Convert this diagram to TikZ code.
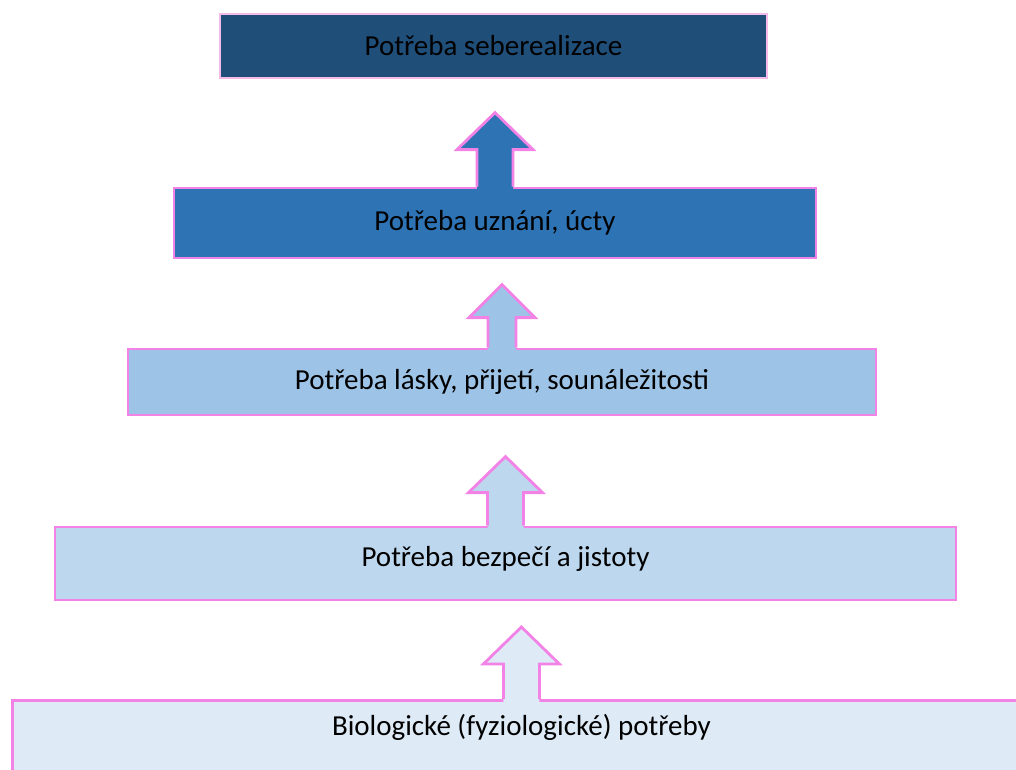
\documentclass[tikz,border=0pt]{standalone}
\usepackage{fontspec}
\setmainfont{Carlito}
\usepackage{tikz}
\usetikzlibrary{positioning}

\definecolor{rim}{RGB}{243,130,230}
\definecolor{rimlight}{RGB}{245,186,232}
\definecolor{lvlfive}{RGB}{31,78,121}
\definecolor{lvlfour}{RGB}{46,116,181}
\definecolor{lvlthree}{RGB}{157,195,230}
\definecolor{lvltwo}{RGB}{189,215,238}
\definecolor{lvlone}{RGB}{222,235,247}

\begin{document}
\begin{tikzpicture}[x=1pt, y=-1pt,
		level/.style = {draw=rim, line width=2.8pt, inner sep=0pt, align=center,
			font=\fontsize{29}{34}\selectfont, text=black},
		rimline/.style = {draw=rim, line width=2.8pt, line join=miter},
	]
	\path[use as bounding box] (0,0) rectangle (1016,769);
	\clip (0,0) rectangle (1016,769);

	\node[level, draw=rimlight, fill=lvlfive, minimum width=547, minimum height=64] (top) at (493.5,46) {Potřeba seberealizace};
	\node[level, fill=lvlfour, minimum width=642, minimum height=70] (esteem) at (495,223) {Potřeba uznání, úcty};
	\node[level, fill=lvlthree, minimum width=748, minimum height=66] (love) at (502,382) {Potřeba lásky, přijetí, sounáležitosti};
	\node[level, fill=lvltwo, minimum width=901, minimum height=73, text depth=14pt] (safety) at (505.5,563.5) {Potřeba bezpečí a jistoty};
	\node[level, fill=lvlone, minimum width=1018, minimum height=76, text depth=27pt, anchor=north west] (bio) at (11,699) {Biologické (fyziologické) potřeby};

	% block arrows, each one grows out of the box below
	\begin{scope}[shift={(esteem.north)}]
		\fill[lvlfour] (-18,3) -- (-18,-37) -- (-38,-37) -- (0,-74) -- (38,-37) -- (18,-37) -- (18,3) -- cycle;
		\draw[rimline] (-18,0) -- (-18,-37) -- (-38,-37) -- (0,-74) -- (38,-37) -- (18,-37) -- (18,0);
	\end{scope}

	\begin{scope}[shift={(love.north)}]
		\fill[lvlthree] (-14,3) -- (-14,-30) -- (-33,-30) -- (0,-63) -- (33,-30) -- (14,-30) -- (14,3) -- cycle;
		\draw[rimline] (-14,0) -- (-14,-30) -- (-33,-30) -- (0,-63) -- (33,-30) -- (14,-30) -- (14,0);
	\end{scope}

	\begin{scope}[shift={(safety.north)}]
		\fill[lvltwo] (-18,3) -- (-18,-33) -- (-37,-33) -- (0,-69) -- (37,-33) -- (18,-33) -- (18,3) -- cycle;
		\draw[rimline] (-18,0) -- (-18,-33) -- (-37,-33) -- (0,-69) -- (37,-33) -- (18,-33) -- (18,0);
	\end{scope}

	\begin{scope}[shift={(bio.north)}]
		\fill[lvlone] (-18,3) -- (-18,-35) -- (-38,-35) -- (0,-72) -- (38,-35) -- (18,-35) -- (18,3) -- cycle;
		\draw[rimline] (-18,0) -- (-18,-35) -- (-38,-35) -- (0,-72) -- (38,-35) -- (18,-35) -- (18,0);
	\end{scope}

\end{tikzpicture}
\end{document}
